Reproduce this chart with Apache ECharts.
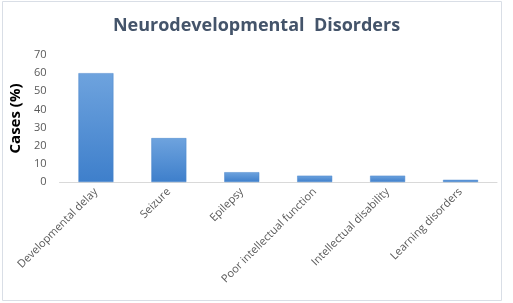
<!DOCTYPE html>
<html><head><meta charset="utf-8">
<script src="https://cdn.jsdelivr.net/npm/echarts@6/dist/echarts.min.js"></script>
<style>html,body{margin:0;padding:0;background:#fff}#c{width:513px;height:303px}</style>
</head><body><div id="c"></div>
<script>
var categories = ["Developmental delay","Seizure","Epilepsy","Poor intellectual function","Intellectual disability","Learning disorders"];
var values = [60, 24.2, 5.4, 3.5, 3.5, 1.2];
var titleText = "Neurodevelopmental  Disorders";
var yName = "Cases (%)";

var chart = echarts.init(document.getElementById('c'));
chart.setOption({
  animation: false,
  backgroundColor: '#fff',
  graphic: [{type:'rect', shape:{x:2.5,y:1.5,width:499,height:299}, style:{fill:'none', stroke:'#d9dee6', lineWidth:1}}],
  title: {text: titleText, left: 'center', top: 12,
    textStyle: {fontFamily: 'Open Sans', fontWeight: 'bold', fontSize: 18, color: '#44546a'}},
  grid: {left: 52, right: 16, top: 55, bottom: 121, containLabel: false},
  xAxis: {type: 'category', data: categories,
    axisLine: {lineStyle: {color: '#d9d9d9'}},
    axisTick: {show: false},
    axisLabel: {rotate: 45, interval: 0, color: '#595959', fontFamily: 'Open Sans', fontSize: 11, margin: 8}},
  yAxis: {type: 'value', min: 0, max: 70, interval: 10,
    name: yName, nameLocation: 'middle', nameGap: 28, nameRotate: 90,
    nameTextStyle: {fontFamily: 'Open Sans', fontWeight: 'bold', fontSize: 15, color: '#000'},
    axisLine: {show: false}, axisTick: {show: false}, splitLine: {show: false},
    axisLabel: {color: '#595959', fontFamily: 'Open Sans', fontSize: 11, margin: 13}},
  series: [{type: 'bar', data: values, barWidth: '48%',
    itemStyle: {color: new echarts.graphic.LinearGradient(0,0,0,1,[{offset:0,color:'#6ea3de'},{offset:1,color:'#3e7fcb'}]),
      borderColor: '#4a86cc', borderWidth: 0.5}}]
});
</script></body></html>
